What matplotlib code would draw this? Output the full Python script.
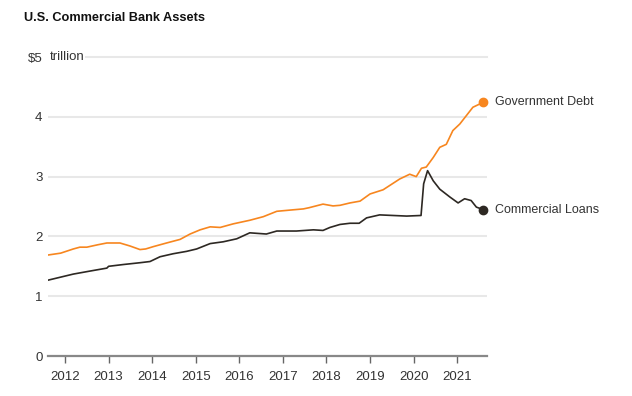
import matplotlib
matplotlib.use("Agg")
import matplotlib.pyplot as plt

# values (decimal year, $ trillion)
debt_x = [2011.62, 2011.9, 2012.19, 2012.34, 2012.5, 2012.75, 2012.96, 2013.26, 2013.49, 2013.72,
          2013.85, 2014.03, 2014.33, 2014.64, 2014.87, 2015.1, 2015.33, 2015.56, 2015.86, 2016.24,
          2016.55, 2016.86, 2017.16, 2017.47, 2017.6, 2017.92, 2018.15, 2018.31, 2018.54, 2018.77,
          2019.0, 2019.3, 2019.68, 2019.91, 2020.06, 2020.18, 2020.29, 2020.45, 2020.6, 2020.75,
          2020.9, 2021.06, 2021.21, 2021.36, 2021.59]
debt_y = [1.69, 1.72, 1.79, 1.82, 1.82, 1.86, 1.89, 1.89, 1.84, 1.78,
          1.79, 1.83, 1.89, 1.95, 2.04, 2.11, 2.16, 2.15, 2.21, 2.27,
          2.33, 2.42, 2.44, 2.46, 2.48, 2.54, 2.51, 2.52, 2.56, 2.59,
          2.71, 2.78, 2.96, 3.04, 3.00, 3.14, 3.16, 3.32, 3.49, 3.54,
          3.77, 3.88, 4.02, 4.16, 4.24]

loans_x = [2011.62, 2012.19, 2012.57, 2012.96, 2013.0, 2013.34, 2013.72, 2013.95, 2014.18, 2014.48,
           2014.79, 2015.02, 2015.33, 2015.63, 2015.94, 2016.24, 2016.62, 2016.86, 2017.31, 2017.7,
           2017.92, 2018.08, 2018.31, 2018.54, 2018.75, 2018.92, 2019.22, 2019.53, 2019.84, 2020.17,
           2020.23, 2020.32, 2020.45, 2020.6, 2020.83, 2021.02, 2021.17, 2021.32, 2021.44, 2021.59]
loans_y = [1.27, 1.37, 1.42, 1.47, 1.50, 1.53, 1.56, 1.58, 1.66, 1.71,
           1.75, 1.79, 1.88, 1.91, 1.96, 2.06, 2.04, 2.09, 2.09, 2.11,
           2.10, 2.15, 2.20, 2.22, 2.22, 2.31, 2.36, 2.35, 2.34, 2.35,
           2.88, 3.10, 2.93, 2.79, 2.66, 2.56, 2.63, 2.60, 2.49, 2.45]

years = list(range(2012, 2022))
y_ticks = [0, 1, 2, 3, 4, 5]
y_labels = ["0", "1", "2", "3", "4", "$5"]

orange = "#f7861f"
dark = "#2d2823"
txt = "#333333"

plt.rcParams["font.family"] = ["Liberation Sans", "DejaVu Sans"]

fig = plt.figure(figsize=(6.32, 3.96), dpi=100)
ax = fig.add_axes([0.076, 0.101, 0.695, 0.755])

ax.plot(debt_x, debt_y, color=orange, lw=1.2, solid_joinstyle="round")
ax.plot(loans_x, loans_y, color=dark, lw=1.2, solid_joinstyle="round")
ax.plot(debt_x[-1], debt_y[-1], "o", color=orange, ms=6, clip_on=False)
ax.plot(loans_x[-1], loans_y[-1], "o", color=dark, ms=6, clip_on=False)

ax.text(debt_x[-1] + 0.27, debt_y[-1], "Government Debt", va="center", fontsize=9, color=txt)
ax.text(loans_x[-1] + 0.27, loans_y[-1], "Commercial Loans", va="center", fontsize=9, color=txt)

ax.set_xlim(2011.61, 2021.69)
ax.set_ylim(0, 5)

# gridlines (top one starts after the "trillion" label)
for v in y_ticks[1:-1]:
    ax.axhline(v, color="#e8e8e8", lw=1.5, zorder=0)
ax.axhline(5, xmin=0.087, color="#e8e8e8", lw=1.5, zorder=0, clip_on=False)
ax.text(2011.66, 5, "trillion", va="center", ha="left", fontsize=9.5, color=txt)

for s in ["top", "right", "left"]:
    ax.spines[s].set_visible(False)
ax.spines["bottom"].set_color("#888888")
ax.spines["bottom"].set_linewidth(1.6)

ax.set_yticks(y_ticks)
ax.set_yticklabels(y_labels)
ax.tick_params(axis="y", length=0, pad=4, labelsize=9.5, labelcolor=txt)
ax.set_xticks(years)
ax.set_xticklabels([str(y) for y in years])
ax.tick_params(axis="x", length=5, width=1, color="#666666", pad=6, labelsize=9.5, labelcolor=txt)

fig.text(0.038, 0.955, "U.S. Commercial Bank Assets", fontsize=9.2, fontweight="bold",
         color="#111111", va="center")

fig.savefig("out.png", dpi=100)
